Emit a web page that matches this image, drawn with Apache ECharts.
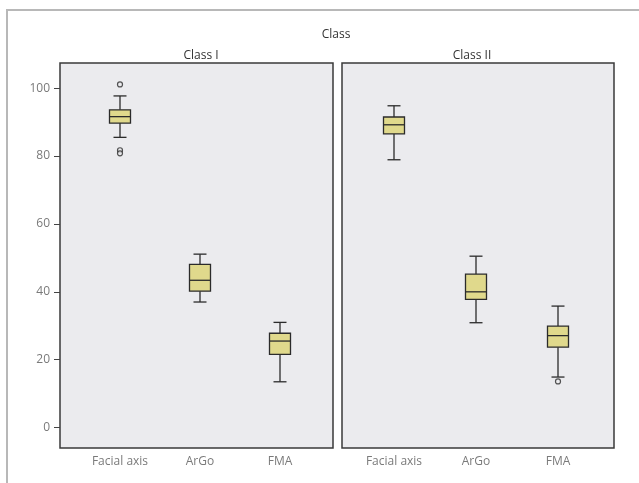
<!DOCTYPE html>
<html>
<head>
<meta charset="utf-8">
<script src="https://cdn.jsdelivr.net/npm/echarts@6/dist/echarts.min.js"></script>
<style>
html,body{margin:0;padding:0;background:#fff;}
#main{width:639px;height:483px;}
</style>
</head>
<body>
<div id="main"></div>
<script>
// 分类
var categories = ['Facial axis', 'ArGo', 'FMA'];
var panelNames = ['Class I', 'Class II'];
var yTicks = [0, 20, 40, 60, 80, 100];
// 箱线数据: [下须, Q1, 中位数, Q3, 上须]
var boxClass1 = [
	[85.5, 89.7, 91.6, 93.6, 97.7],
	[37.0, 40.2, 43.4, 48.1, 51.1],
	[13.5, 21.6, 25.5, 27.8, 31.0]
];
var boxClass2 = [
	[78.9, 86.5, 89.2, 91.5, 94.8],
	[30.9, 37.8, 40.0, 45.2, 50.5],
	[14.9, 23.7, 27.1, 29.9, 35.8]
];
// 离群点: [类别序号, 值]
var outClass1 = [[0, 101.1], [0, 81.7], [0, 80.8]];
var outClass2 = [[2, 13.6]];

var yMin = -6, yMax = 107.4;
var dom = document.getElementById('main');
var myChart = echarts.init(dom);

var boxColor = '#e0d98c';
var lineColor = '#2b2b2b';

var renderBox = function(params, api){
	var x = api.value(0);
	var lo = api.coord([x, api.value(1)]);
	var q1 = api.coord([x, api.value(2)]);
	var md = api.coord([x, api.value(3)]);
	var q3 = api.coord([x, api.value(4)]);
	var hi = api.coord([x, api.value(5)]);
	var cx = lo[0];
	var bw = 21, cw = 13;
	var st = {stroke: lineColor, lineWidth: 1.3, fill: null};
	return {
		type: 'group',
		children: [
			{type: 'line', shape: {x1: cx, y1: hi[1], x2: cx, y2: q3[1]}, style: st},
			{type: 'line', shape: {x1: cx, y1: q1[1], x2: cx, y2: lo[1]}, style: st},
			{type: 'line', shape: {x1: cx - cw / 2, y1: hi[1], x2: cx + cw / 2, y2: hi[1]}, style: st},
			{type: 'line', shape: {x1: cx - cw / 2, y1: lo[1], x2: cx + cw / 2, y2: lo[1]}, style: st},
			{type: 'rect', shape: {x: cx - bw / 2, y: q3[1], width: bw, height: q1[1] - q3[1]},
				style: {fill: boxColor, stroke: lineColor, lineWidth: 1.3}},
			{type: 'line', shape: {x1: cx - bw / 2, y1: md[1], x2: cx + bw / 2, y2: md[1]}, style: st}
		]
	};
};

var toRows = function(arr){
	var rows = [];
	for(var i = 0; i < arr.length; i++){
		rows.push([i].concat(arr[i]));
	}
	return rows;
};

var gridTop = 63, gridHeight = 385;
var labelColor = '#7a7a7a';
var titleStyle = {color: '#333', fontSize: 12, fontWeight: 'normal', fontFamily: 'Open Sans'};

var option = {
	backgroundColor: '#fff',
	title: [
		{text: 'Class', left: 331, top: 24, textAlign: 'center', textStyle: titleStyle},
		{text: panelNames[0], left: 196, top: 45, textAlign: 'center', textStyle: titleStyle},
		{text: panelNames[1], left: 467, top: 45, textAlign: 'center', textStyle: titleStyle}
	],
	graphic: [
		{type: 'polyline', shape: {points: [[7, 483], [7, 10], [639, 10]]},
			style: {stroke: '#b8b8b8', lineWidth: 2, fill: null}}
	],
	grid: [
		// 面板框
		{left: 60, top: gridTop, width: 273, height: gridHeight, show: true, backgroundColor: '#ebebee', borderColor: '#3a3a3a', borderWidth: 1.5},
		{left: 342, top: gridTop, width: 272, height: gridHeight, show: true, backgroundColor: '#ebebee', borderColor: '#3a3a3a', borderWidth: 1.5},
		// 数据区
		{left: 80, top: gridTop, width: 240, height: gridHeight},
		{left: 353, top: gridTop, width: 246, height: gridHeight}
	],
	xAxis: [
		{gridIndex: 0, type: 'value', show: false, min: 0, max: 1},
		{gridIndex: 1, type: 'value', show: false, min: 0, max: 1},
		{gridIndex: 2, type: 'category', data: categories, axisLine: {show: false}, axisTick: {show: false},
			axisLabel: {margin: 8, color: labelColor, fontSize: 12, fontFamily: 'Open Sans'}},
		{gridIndex: 3, type: 'category', data: categories, axisLine: {show: false}, axisTick: {show: false},
			axisLabel: {margin: 8, color: labelColor, fontSize: 12, fontFamily: 'Open Sans'}}
	],
	yAxis: [
		{gridIndex: 0, type: 'value', min: yMin, max: yMax, splitLine: {show: false},
			axisLine: {show: false},
			axisTick: {show: true, inside: false, length: 6, customValues: yTicks, lineStyle: {color: '#444'}},
			axisLabel: {customValues: yTicks, margin: 10, color: labelColor, fontSize: 12, fontFamily: 'Open Sans'}},
		{gridIndex: 1, type: 'value', min: yMin, max: yMax, show: false},
		{gridIndex: 2, type: 'value', min: yMin, max: yMax, show: false},
		{gridIndex: 3, type: 'value', min: yMin, max: yMax, show: false}
	],
	series: [
		{type: 'custom', xAxisIndex: 2, yAxisIndex: 2, renderItem: renderBox, data: toRows(boxClass1), z: 5},
		{type: 'custom', xAxisIndex: 3, yAxisIndex: 3, renderItem: renderBox, data: toRows(boxClass2), z: 5},
		{type: 'scatter', xAxisIndex: 2, yAxisIndex: 2, data: outClass1, symbol: 'circle', symbolSize: 5,
			itemStyle: {color: '#ebebee', borderColor: lineColor, borderWidth: 1.2}, z: 6},
		{type: 'scatter', xAxisIndex: 3, yAxisIndex: 3, data: outClass2, symbol: 'circle', symbolSize: 5,
			itemStyle: {color: '#ebebee', borderColor: lineColor, borderWidth: 1.2}, z: 6}
	]
};
if(option && typeof option === "object"){
	myChart.setOption(option, true);
}
</script>
</body>
</html>
